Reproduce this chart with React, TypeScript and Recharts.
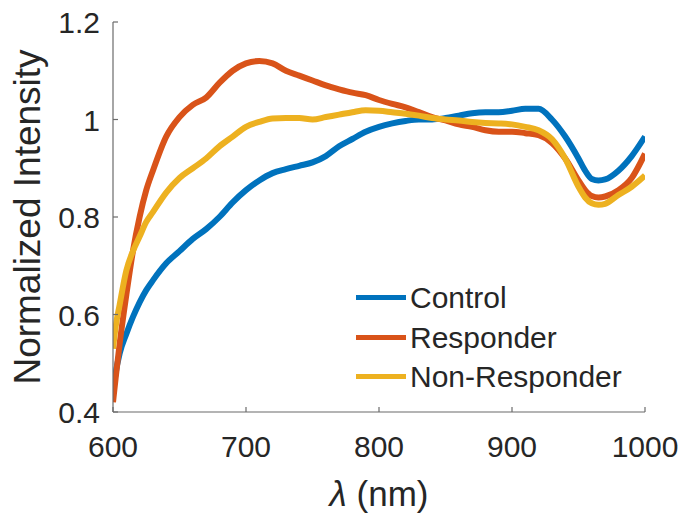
import { LineChart, Line, XAxis, YAxis, Legend } from "recharts";

const wavelengths = [
  600, 602, 605, 610, 615, 620, 625, 630, 640, 650, 660, 670, 680, 690, 700,
  710, 720, 730, 740, 750, 760, 770, 780, 790, 800, 810, 820, 830, 840, 850,
  860, 870, 880, 890, 900, 910, 920, 930, 940, 950, 955, 960, 965, 970, 980,
  990, 1000,
];

const control = [
  0.44, 0.48, 0.52, 0.56, 0.595, 0.625, 0.65, 0.67, 0.705, 0.73, 0.755, 0.775,
  0.8, 0.83, 0.855, 0.875, 0.89, 0.898, 0.905, 0.912, 0.925, 0.945, 0.96,
  0.975, 0.985, 0.992, 0.997, 1.0, 1.0, 1.003, 1.008, 1.013, 1.015, 1.015,
  1.018, 1.022, 1.022, 1.0, 0.965, 0.92, 0.895, 0.878, 0.875, 0.877, 0.895,
  0.925, 0.965,
];

const responder = [
  0.42, 0.47, 0.54, 0.64, 0.73, 0.8, 0.855, 0.895, 0.965, 1.005, 1.03, 1.045,
  1.075, 1.1, 1.115, 1.12, 1.115, 1.1, 1.09, 1.08, 1.07, 1.062, 1.055, 1.05,
  1.04, 1.032, 1.025, 1.015, 1.005, 0.998, 0.99, 0.985, 0.978, 0.975, 0.975,
  0.972, 0.968, 0.952, 0.92, 0.875, 0.855, 0.843, 0.84, 0.842, 0.855, 0.88,
  0.93,
];

const nonResponder = [
  0.53, 0.575, 0.62, 0.69, 0.73, 0.76, 0.79, 0.81, 0.85, 0.88, 0.9, 0.92,
  0.945, 0.965, 0.985, 0.995, 1.002, 1.003, 1.003, 1.0, 1.005, 1.01, 1.015,
  1.019, 1.018, 1.015, 1.012, 1.008, 1.003, 1.0, 0.998, 0.995, 0.993, 0.992,
  0.99, 0.985, 0.978, 0.96, 0.92, 0.862, 0.84, 0.828, 0.825, 0.827, 0.845,
  0.862, 0.885,
];

const xTicks = [600, 700, 800, 900, 1000];
const yTicks = [0.4, 0.6, 0.8, 1.0, 1.2];
const yTickLabels = ["0.4", "0.6", "0.8", "1", "1.2"];

const series = [
  { key: "control", name: "Control", color: "#0072BD" },
  { key: "responder", name: "Responder", color: "#D95319" },
  { key: "nonResponder", name: "Non-Responder", color: "#EDB120" },
];

const data = wavelengths.map((wl, i) => ({
  wl,
  control: control[i],
  responder: responder[i],
  nonResponder: nonResponder[i],
}));

const FONT = '"Liberation Sans", Arial, Helvetica, sans-serif';
const TEXT = "#262626";
const AXIS = "#6b6b6b";

function XTick({ x, y, payload }: any) {
  return (
    <g>
      <line x1={x} x2={x} y1={y} y2={y - 5} stroke={AXIS} strokeWidth={1.2} />
      <text x={x} y={y + 45} textAnchor="middle" fill={TEXT} fontSize={30} fontFamily={FONT}>
        {payload.value}
      </text>
    </g>
  );
}

function YTick({ x, y, payload }: any) {
  const idx = yTicks.findIndex((t) => Math.abs(t - payload.value) < 1e-6);
  return (
    <g>
      <line x1={x} x2={x + 5} y1={y} y2={y} stroke={AXIS} strokeWidth={1.2} />
      <text x={x - 13} y={y + 11} textAnchor="end" fill={TEXT} fontSize={30} fontFamily={FONT}>
        {idx >= 0 ? yTickLabels[idx] : payload.value}
      </text>
    </g>
  );
}

function LegendBox() {
  return (
    <div style={{ fontFamily: FONT, fontSize: 30, color: TEXT }}>
      {series.map((s) => (
        <div key={s.key} style={{ display: "flex", alignItems: "center", height: 39.5 }}>
          <div style={{ width: 50, height: 5, background: s.color, marginRight: 4 }} />
          <span style={{ lineHeight: "39.5px", whiteSpace: "nowrap" }}>{s.name}</span>
        </div>
      ))}
    </div>
  );
}

export default function App() {
  return (
    <div style={{ position: "absolute", left: 0, top: 0, background: "#fff" }}>
      <LineChart width={683} height={514} data={data} margin={{ top: 22, right: 38, bottom: 0, left: 0 }}>
        <XAxis
          dataKey="wl"
          type="number"
          domain={[600, 1000]}
          ticks={xTicks}
          allowDataOverflow
          height={102}
          tickSize={0}
          tickMargin={0}
          tickLine={false}
          axisLine={{ stroke: AXIS, strokeWidth: 1.2 }}
          tick={<XTick />}
          label={{
            content: ({ viewBox }: any) => (
              <text
                x={viewBox.x + viewBox.width / 2}
                y={viewBox.y + 94}
                textAnchor="middle"
                fill={TEXT}
                fontSize={35}
                fontFamily={FONT}
              >
                <tspan fontStyle="italic">λ</tspan> (nm)
              </text>
            ),
          }}
        />
        <YAxis
          type="number"
          domain={[0.4, 1.2]}
          ticks={yTicks}
          allowDataOverflow
          width={113}
          tickSize={0}
          tickMargin={0}
          tickLine={false}
          axisLine={{ stroke: AXIS, strokeWidth: 1.2 }}
          tick={<YTick />}
          label={{
            content: ({ viewBox }: any) => (
              <text
                transform={`translate(${viewBox.x + 40}, ${viewBox.y + viewBox.height / 2}) rotate(-90)`}
                textAnchor="middle"
                fill={TEXT}
                fontSize={37}
                fontFamily={FONT}
              >
                Normalized Intensity
              </text>
            ),
          }}
        />
        <Legend
          layout="vertical"
          align="center"
          verticalAlign="middle"
          content={<LegendBox />}
          wrapperStyle={{ left: 356, top: 278, width: 300, height: 120 }}
        />
        {series.map((s) => (
          <Line
            key={s.key}
            dataKey={s.key}
            name={s.name}
            type="monotone"
            stroke={s.color}
            strokeWidth={6}
            dot={false}
            isAnimationActive={false}
          />
        ))}
      </LineChart>
    </div>
  );
}
